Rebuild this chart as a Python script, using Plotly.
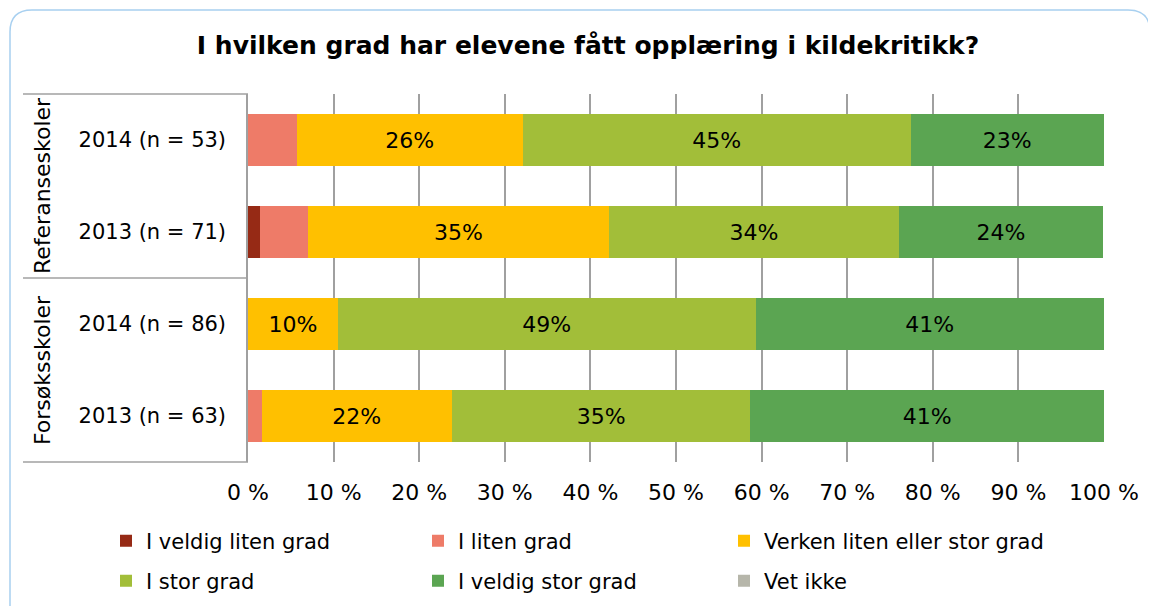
import plotly.graph_objects as go

# ---- data ----
groups = ["Referanseskoler", "Forsøksskoler"]
categories = ["2014 (n = 53)", "2013 (n = 71)", "2014 (n = 86)", "2013 (n = 63)"]
series_names = ["I veldig liten grad", "I liten grad", "Verken liten eller stor grad",
                "I stor grad", "I veldig stor grad", "Vet ikke"]
veldig_liten = [0.0, 1.4, 0.0, 0.0]
liten = [5.7, 5.6, 0.0, 1.6]
verken = [26.4, 35.2, 10.5, 22.2]
stor = [45.3, 33.8, 48.8, 34.9]
veldig_stor = [22.6, 23.9, 40.7, 41.3]
vet_ikke = [0.0, 0.0, 0.0, 0.0]
x_ticks = [0, 10, 20, 30, 40, 50, 60, 70, 80, 90, 100]
x_tick_labels = ["0 %", "10 %", "20 %", "30 %", "40 %", "50 %", "60 %", "70 %", "80 %", "90 %", "100 %"]
title = "I hvilken grad har elevene fått opplæring i kildekritikk?"

colors = ["#962A15", "#EE7B68", "#FFC000", "#A2BE39", "#5BA552", "#B6B6AA"]
values = [veldig_liten, liten, verken, stor, veldig_stor, vet_ikke]

W, H = 1156, 606
OFF = 8  # page body margin
ML, MR, MT, MB = 240, 60, 86, 152
PW, PH = W - ML - MR, H - MT - MB


def px(xr):
    return (xr - OFF - ML) / PW


def py(yr):
    return (H - MB - (yr - OFF)) / PH


FONT = "DejaVu Sans"
# legend grid: 3 columns x 2 rows (left edge of each legend box, row centre)
legend_cols = [106, 418, 724]
legend_rows = [541, 581]

fig = go.Figure()
legend_layouts = {}
for i, (name, vals, col) in enumerate(zip(series_names, values, colors)):
    txt = [f"{round(v)}%" if v >= 8 else "" for v in vals]
    lname = "legend" if i == 0 else f"legend{i + 1}"
    fig.add_trace(go.Bar(
        y=categories, x=vals, name=name, orientation="h",
        marker=dict(color=col, line=dict(width=0)),
        text=txt, textposition="inside", insidetextanchor="middle",
        textangle=0, textfont=dict(color="black", size=22, family=FONT),
        hoverinfo="x+name",
        legend=lname,
    ))
    legend_layouts[lname] = dict(
        orientation="h", xanchor="left", yanchor="middle",
        x=px(legend_cols[i % 3]), y=py(legend_rows[i // 3]),
        bgcolor="rgba(0,0,0,0)", font=dict(size=21, family=FONT, color="black"))

shapes = []
# left table lines
for yy in [1, 0.5, 0]:
    shapes.append(dict(type="line", xref="paper", yref="paper", x0=px(23), x1=0, y0=yy, y1=yy,
                       line=dict(color="#A0A0A0", width=1.5)))
# rounded outer border
x0, x1, y0, y1, r = 10, 1150, 10, 640, 22
path = (f"M {px(x0)},{py(y1)} L {px(x0)},{py(y0 + r)} Q {px(x0)},{py(y0)} {px(x0 + r)},{py(y0)} "
        f"L {px(x1 - r)},{py(y0)} Q {px(x1)},{py(y0)} {px(x1)},{py(y0 + r)} L {px(x1)},{py(y1)}")
shapes.append(dict(type="path", xref="paper", yref="paper", path=path,
                   line=dict(color="#A8D0F0", width=1.5)))

annotations = []
for gname, yc in zip(groups, [0.75, 0.25]):
    annotations.append(dict(text=gname, xref="paper", yref="paper", x=px(42), y=yc,
                            textangle=-90, showarrow=False, xanchor="center", yanchor="middle",
                            font=dict(size=22, family=FONT, color="black")))

fig.update_layout(
    width=W, height=H,
    margin=dict(l=ML, r=MR, t=MT, b=MB),
    paper_bgcolor="white", plot_bgcolor="white",
    barmode="stack", bargap=0.435,
    title=dict(text=title, x=(588 - OFF) / W, xref="container", xanchor="center",
               y=1 - (45 - OFF) / H, yanchor="middle",
               font=dict(size=25, family=FONT, color="black", weight="bold")),
    showlegend=True,
    shapes=shapes, annotations=annotations,
    font=dict(family=FONT, color="black"),
    **legend_layouts,
)
fig.update_xaxes(range=[0, 100], tickvals=x_ticks, ticktext=x_tick_labels,
                 showgrid=True, gridcolor="#A0A0A0", gridwidth=1.5, zeroline=False,
                 ticklabelstandoff=15,
                 tickfont=dict(size=22, family=FONT, color="black"), fixedrange=True)
fig.update_yaxes(autorange="reversed", showline=True, linecolor="#A0A0A0", linewidth=1.5,
                 ticks="", ticklabelstandoff=16,
                 tickfont=dict(size=21, family=FONT, color="black"))

fig.write_html("out.html")
